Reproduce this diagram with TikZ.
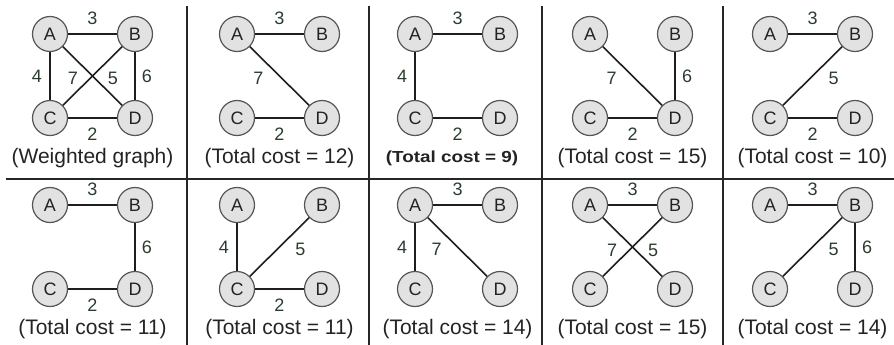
\documentclass[tikz,border=0pt]{standalone}
\usepackage{fontspec}
\setmainfont{Liberation Sans}
\definecolor{nodefill}{RGB}{226,226,226}
\definecolor{nodeborder}{RGB}{85,85,85}
\definecolor{edgecol}{RGB}{30,30,30}
\definecolor{lblcol}{RGB}{42,60,46}
\definecolor{txt}{RGB}{35,35,35}
\newcommand\mypanel[3]{%
  \node[vx] (#1A) at (#2,#3) {A};
  \node[vx] (#1B) at ({#2+85},#3) {B};
  \node[vx] (#1C) at (#2,{#3+84}) {C};
  \node[vx] (#1D) at ({#2+85},{#3+84}) {D};}
\begin{document}
\begin{tikzpicture}[x=1pt,y=-1pt,
  vx/.style={circle, draw=nodeborder, fill=nodefill, line width=1.2pt, minimum size=35pt, inner sep=0pt, font=\fontsize{18}{18}\selectfont, text=txt},
  edge/.style={line width=1.6pt, draw=edgecol},
  lbl/.style={font=\fontsize{18}{18}\selectfont, text=lblcol, inner sep=0pt},
  lup/.style={lbl, yshift=16pt},
  ldown/.style={lbl, yshift=-16pt},
  lleft/.style={lbl, xshift=-13pt},
  lright/.style={lbl, xshift=12pt},
  dleft/.style={lbl, xshift=-21pt, yshift=-2pt},
  dright/.style={lbl, xshift=21pt, yshift=-2pt},
  captxt/.style={font=\fontsize{21}{21}\selectfont, text=txt, inner sep=0pt},
  divider/.style={line width=2pt, draw=black!85}]
\useasboundingbox (0,0) rectangle (894,345);
% dividers
\coordinate (h1) at (6,179);
\coordinate (h2) at (894,179);
\draw[divider] (h1) -- (h2);
\foreach \xx in {187,369,542,723}{
  \coordinate (vt) at (\xx,6);
  \coordinate (vb) at (\xx,345);
  \draw[divider] (vt) -- (vb);
}
% ---------- top row ----------
\mypanel{a}{50}{34}
\draw[edge] (aA) -- node[lup]{3} (aB);
\draw[edge] (aA) -- node[lleft]{4} (aC);
\draw[edge] (aB) -- node[lright]{6} (aD);
\draw[edge] (aC) -- node[ldown]{2} (aD);
\draw[edge] (aA) -- (aD);
\draw[edge] (aB) -- (aC);
\node[lbl] (a7) at (73,78) {7};
\node[lbl] (a5) at (113,78) {5};
\node[captxt] (acap) at (92.5,158) {(Weighted graph)};

\mypanel{b}{237}{34}
\draw[edge] (bA) -- node[lup]{3} (bB);
\draw[edge] (bA) -- node[dleft]{7} (bD);
\draw[edge] (bC) -- node[ldown]{2} (bD);
\node[captxt] (bcap) at (279.5,158) {(Total cost = 12)};

\mypanel{c}{415}{34}
\draw[edge] (cA) -- node[lup]{3} (cB);
\draw[edge] (cA) -- node[lleft]{4} (cC);
\draw[edge] (cC) -- node[ldown]{2} (cD);
\node[inner sep=0pt, text=txt] (ccap) at (452,158) {\scalebox{1.18}[1]{\fontsize{16}{16}\selectfont\bfseries (Total cost = 9)}};

\mypanel{d}{590}{34}
\draw[edge] (dA) -- node[dleft]{7} (dD);
\draw[edge] (dB) -- node[lright]{6} (dD);
\draw[edge] (dC) -- node[ldown]{2} (dD);
\node[captxt] (dcap) at (632.5,158) {(Total cost = 15)};

\mypanel{e}{770}{34}
\draw[edge] (eA) -- node[lup]{3} (eB);
\draw[edge] (eB) -- node[dright]{5} (eC);
\draw[edge] (eC) -- node[ldown]{2} (eD);
\node[captxt] (ecap) at (812.5,158) {(Total cost = 10)};

% ---------- bottom row ----------
\mypanel{f}{50}{205}
\draw[edge] (fA) -- node[lup]{3} (fB);
\draw[edge] (fB) -- node[lright]{6} (fD);
\draw[edge] (fC) -- node[ldown]{2} (fD);
\node[captxt] (fcap) at (92.5,329) {(Total cost = 11)};

\mypanel{g}{237}{205}
\draw[edge] (gA) -- node[lleft]{4} (gC);
\draw[edge] (gB) -- node[dright]{5} (gC);
\draw[edge] (gC) -- node[ldown]{2} (gD);
\node[captxt] (gcap) at (279.5,329) {(Total cost = 11)};

\mypanel{h}{415}{205}
\draw[edge] (hA) -- node[lup]{3} (hB);
\draw[edge] (hA) -- node[lleft]{4} (hC);
\draw[edge] (hA) -- node[dleft]{7} (hD);
\node[captxt] (hcap) at (457.5,329) {(Total cost = 14)};

\mypanel{i}{590}{205}
\draw[edge] (iA) -- node[lup]{3} (iB);
\draw[edge] (iA) -- (iD);
\draw[edge] (iB) -- (iC);
\node[lbl] (i7) at (612,250) {7};
\node[lbl] (i5) at (653,250) {5};
\node[captxt] (icap) at (632.5,329) {(Total cost = 15)};

\mypanel{j}{770}{205}
\draw[edge] (jA) -- node[lup]{3} (jB);
\draw[edge] (jB) -- node[dright]{5} (jC);
\draw[edge] (jB) -- node[lright]{6} (jD);
\node[captxt] (jcap) at (812.5,329) {(Total cost = 14)};
\end{tikzpicture}
\end{document}
